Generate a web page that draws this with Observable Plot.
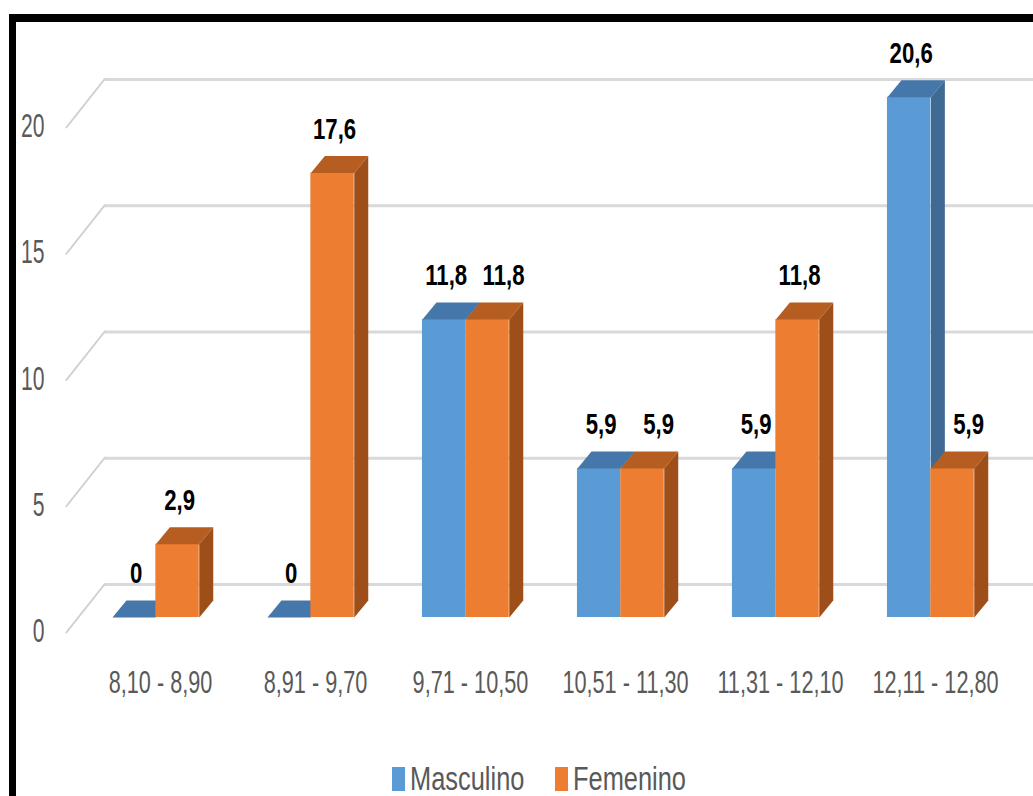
<!DOCTYPE html>
<html>
<head>
<meta charset="utf-8">
<script src="https://cdn.jsdelivr.net/npm/d3@7"></script>
<script src="https://cdn.jsdelivr.net/npm/@observablehq/plot@0.6"></script>
<style>
  html, body { margin: 0; padding: 0; background: #fff; width: 1033px; height: 796px; overflow: hidden; }
  #frame { position: absolute; left: 9px; top: 14px; width: 1100px; height: 900px;
           border-top: 8px solid #000; border-left: 7px solid #000; box-sizing: border-box; z-index: 5; pointer-events: none; }
  #chart { position: absolute; left: 0; top: 0; }
  #legend { position: absolute; left: 392px; top: 760px; display: flex;
            font-family: "Liberation Sans", Arial, sans-serif; font-size: 33px; color: #595959; }
  .item { display: flex; align-items: center; }
  .sw { flex: 0 0 auto; width: 13px; height: 24px; margin-right: 5px; }
  .lab { display: inline-block; transform: scaleX(0.77); transform-origin: left center; white-space: nowrap; }
</style>
</head>
<body>
<div id="chart"></div>
<div id="legend"></div>
<div id="frame"></div>
<script>
const categories = ["8,10 - 8,90", "8,91 - 9,70", "9,71 - 10,50", "10,51 - 11,30", "11,31 - 12,10", "12,11 - 12,80"];
const seriesNames = ["Masculino", "Femenino"];
const masculino = [0, 0, 11.8, 5.9, 5.9, 20.6];
const femenino = [2.9, 17.6, 11.8, 5.9, 11.8, 5.9];
const yTicks = [0, 5, 10, 15, 20];

// styling / projection constants
const colors = {
  Masculino: {front: "#5B9BD5", top: "#4677AA", side: "#3E6A94"},
  Femenino: {front: "#ED7D31", top: "#B65E21", side: "#9E4F19"}
};
const W = 1033, H = 720;
const pxPerUnitY = 25.25;
const y0px = 617;
const barW = 0.28;                       // in category units
const offsets = {Masculino: -0.31, Femenino: -0.03};
const DX = 14 / 155, DY = 17 / pxPerUnitY;         // bar depth in data units
const wallX = -0.53;                                // left wall at bar-front plane
const backDX = 26 / 155, backDY = 33 / pxPerUnitY; // back wall offset
const floorDX = -12 / 155, floorDY = -15 / pxPerUnitY; // front floor edge offset

const yMax = 22;
const marginBottom = H - y0px;
const marginTop = y0px - yMax * pxPerUnitY;

function build(name, values) {
  const bars = values.map((v, i) => {
    const x1 = i + offsets[name], x2 = x1 + barW;
    return {i, v, x1, x2, name};
  });
  const tops = [], sides = [];
  bars.forEach((b, k) => {
    tops.push({id: k, x: b.x1, y: b.v}, {id: k, x: b.x2, y: b.v}, {id: k, x: b.x2 + DX, y: b.v + DY}, {id: k, x: b.x1 + DX, y: b.v + DY});
    sides.push({id: k, x: b.x2, y: 0}, {id: k, x: b.x2, y: b.v}, {id: k, x: b.x2 + DX, y: b.v + DY}, {id: k, x: b.x2 + DX, y: DY});
  });
  return {bars, tops, sides};
}
const M = build("Masculino", masculino);
const F = build("Femenino", femenino);

function barMarks(S, name) {
  const c = colors[name];
  return [
    Plot.rectY(S.bars, {x1: "x1", x2: "x2", y1: 0, y2: "v", fill: c.front}),
    Plot.line(S.tops, {x: "x", y: "y", z: "id", fill: c.top, stroke: "none", curve: "linear-closed"}),
    Plot.line(S.sides, {x: "x", y: "y", z: "id", fill: c.side, stroke: "none", curve: "linear-closed"})
  ];
}

const gridLines = yTicks.map(t => ({t}));
const diag = yTicks.flatMap(t => [
  {t, x: wallX + floorDX, y: t + floorDY},
  {t, x: wallX + backDX, y: t + backDY}
]);

// label placement: Femenino labels nudge right when the Masculino bar beside is as tall or taller
const fmt = v => String(v).replace(".", ",");
const labels = [
  ...M.bars.map(b => ({x: (b.x1 + b.x2) / 2 + 2 / 155, y: b.v, text: fmt(b.v)})),
  ...F.bars.map(b => ({x: (b.x1 + b.x2) / 2 + (masculino[b.i] >= b.v - 0.5 ? 16 : 2) / 155, y: b.v, text: fmt(b.v)}))
];

const chart = Plot.plot({
  width: W, height: H,
  marginLeft: 82.5, marginRight: 20.5, marginTop, marginBottom,
  x: {type: "linear", domain: [-0.5, 5.5]},
  y: {type: "linear", domain: [0, yMax]},
  style: {background: "transparent", overflow: "hidden"},
  marks: [
    Plot.ruleY(gridLines, {y: d => d.t + backDY, x1: wallX + backDX, x2: 5.8, stroke: "#D9D9D9", strokeWidth: 3}),
    Plot.line(diag, {x: "x", y: "y", z: "t", stroke: "#D0D0D0", strokeWidth: 2}),
    ...barMarks(M, "Masculino"),
    ...barMarks(F, "Femenino"),
    Plot.text(labels, {x: "x", y: "y", text: "text", dy: -44, lineAnchor: "middle",
      fontSize: 30, fontWeight: "bold", fill: "#000", fontFamily: "Liberation Sans, Arial, sans-serif"}),
    Plot.axisY(yTicks, {tickSize: 0, tickPadding: 38.5, dy: 14, label: null, fontSize: 33, fill: "#595959",
      fontFamily: "Liberation Sans, Arial, sans-serif"}),
    Plot.axisX([0, 1, 2, 3, 4, 5], {tickSize: 0, tickPadding: 53, label: null, fontSize: 31, fill: "#595959",
      tickFormat: i => categories[i], fontFamily: "Liberation Sans, Arial, sans-serif"})
  ]
});
document.getElementById("chart").appendChild(chart);

// condense text horizontally (the reference typography is very narrow)
chart.querySelectorAll("text").forEach(t => {
  const bold = +getComputedStyle(t).fontWeight >= 700;
  const xAxis = t.parentNode.getAttribute("aria-label") === "x-axis tick label";
  const s = bold ? 0.74 : xAxis ? 0.70 : 0.64;
  const tr = t.getAttribute("transform") || "";
  t.setAttribute("transform", `${tr} scale(${s},1)`);
});

// legend
const leg = document.getElementById("legend");
seriesNames.forEach((n, k) => {
  const it = document.createElement("div");
  it.className = "item";
  it.style.width = k === 0 ? "163px" : "140px";
  it.innerHTML = `<span class="sw" style="background:${colors[n].front}"></span><span class="lab">${n}</span>`;
  leg.appendChild(it);
});
</script>
</body>
</html>
